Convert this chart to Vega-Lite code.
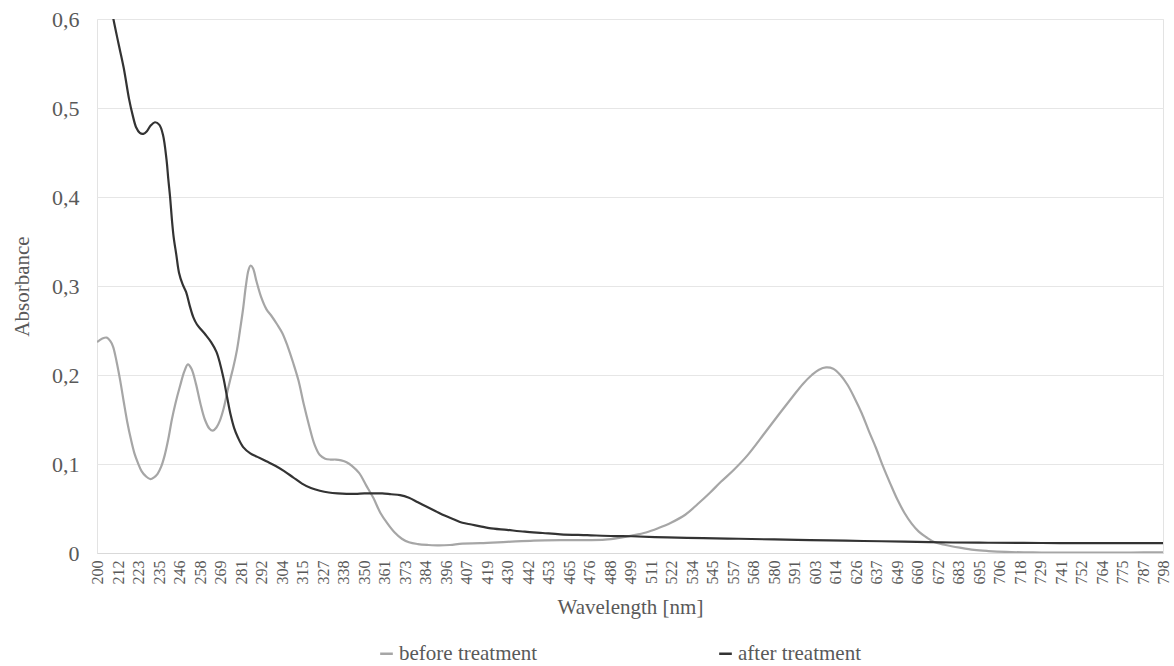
{
  "$schema": "https://vega.github.io/schema/vega-lite/v6.json",
  "autosize": {"type": "none"},
  "padding": {"left": 97, "top": 19, "right": 11, "bottom": 113},
  "width": 1066,
  "height": 534,
  "background": "white",
  "config": {
    "view": {"stroke": "#e3e3e3", "strokeWidth": 1},
    "font": "Liberation Serif",
    "axis": {"labelFont": "Liberation Serif", "titleFont": "Liberation Serif"},
    "legend": {"labelFont": "Liberation Serif", "titleFont": "Liberation Serif"}
  },
  "data": {
    "values": [
      {"w":200,"a":0.237,"s":"before treatment"},{"w":203,"a":0.241,"s":"before treatment"},{"w":205.5,"a":0.242,"s":"before treatment"},{"w":207.5,"a":0.238,"s":"before treatment"},{"w":209,"a":0.232,"s":"before treatment"},{"w":211,"a":0.215,"s":"before treatment"},{"w":213,"a":0.194,"s":"before treatment"},{"w":215,"a":0.170,"s":"before treatment"},{"w":217,"a":0.147,"s":"before treatment"},{"w":219,"a":0.128,"s":"before treatment"},{"w":221,"a":0.112,"s":"before treatment"},{"w":223,"a":0.101,"s":"before treatment"},{"w":225,"a":0.092,"s":"before treatment"},{"w":227.5,"a":0.086,"s":"before treatment"},{"w":230,"a":0.083,"s":"before treatment"},{"w":232,"a":0.085,"s":"before treatment"},{"w":234,"a":0.089,"s":"before treatment"},{"w":236,"a":0.097,"s":"before treatment"},{"w":238,"a":0.110,"s":"before treatment"},{"w":240,"a":0.128,"s":"before treatment"},{"w":242,"a":0.150,"s":"before treatment"},{"w":244,"a":0.168,"s":"before treatment"},{"w":246.5,"a":0.187,"s":"before treatment"},{"w":249,"a":0.204,"s":"before treatment"},{"w":251,"a":0.212,"s":"before treatment"},{"w":253,"a":0.207,"s":"before treatment"},{"w":255.5,"a":0.190,"s":"before treatment"},{"w":258,"a":0.168,"s":"before treatment"},{"w":260.5,"a":0.150,"s":"before treatment"},{"w":263,"a":0.140,"s":"before treatment"},{"w":265,"a":0.1375,"s":"before treatment"},{"w":267,"a":0.141,"s":"before treatment"},{"w":269,"a":0.149,"s":"before treatment"},{"w":271,"a":0.162,"s":"before treatment"},{"w":273,"a":0.180,"s":"before treatment"},{"w":275,"a":0.197,"s":"before treatment"},{"w":276.5,"a":0.209,"s":"before treatment"},{"w":278.5,"a":0.228,"s":"before treatment"},{"w":280.2,"a":0.250,"s":"before treatment"},{"w":282,"a":0.275,"s":"before treatment"},{"w":283.5,"a":0.300,"s":"before treatment"},{"w":285,"a":0.318,"s":"before treatment"},{"w":286.2,"a":0.323,"s":"before treatment"},{"w":287.5,"a":0.320,"s":"before treatment"},{"w":289.5,"a":0.305,"s":"before treatment"},{"w":292,"a":0.288,"s":"before treatment"},{"w":295,"a":0.274,"s":"before treatment"},{"w":298,"a":0.266,"s":"before treatment"},{"w":301,"a":0.257,"s":"before treatment"},{"w":304,"a":0.247,"s":"before treatment"},{"w":307,"a":0.232,"s":"before treatment"},{"w":310,"a":0.214,"s":"before treatment"},{"w":313,"a":0.194,"s":"before treatment"},{"w":316,"a":0.167,"s":"before treatment"},{"w":319,"a":0.143,"s":"before treatment"},{"w":322,"a":0.122,"s":"before treatment"},{"w":325,"a":0.110,"s":"before treatment"},{"w":328,"a":0.106,"s":"before treatment"},{"w":331,"a":0.105,"s":"before treatment"},{"w":334,"a":0.105,"s":"before treatment"},{"w":337,"a":0.104,"s":"before treatment"},{"w":340,"a":0.102,"s":"before treatment"},{"w":343,"a":0.098,"s":"before treatment"},{"w":347,"a":0.090,"s":"before treatment"},{"w":351,"a":0.076,"s":"before treatment"},{"w":355,"a":0.062,"s":"before treatment"},{"w":359,"a":0.045,"s":"before treatment"},{"w":363,"a":0.033,"s":"before treatment"},{"w":367,"a":0.023,"s":"before treatment"},{"w":371,"a":0.016,"s":"before treatment"},{"w":375,"a":0.012,"s":"before treatment"},{"w":380,"a":0.010,"s":"before treatment"},{"w":386,"a":0.009,"s":"before treatment"},{"w":392,"a":0.0085,"s":"before treatment"},{"w":398,"a":0.009,"s":"before treatment"},{"w":405,"a":0.0105,"s":"before treatment"},{"w":415,"a":0.011,"s":"before treatment"},{"w":430,"a":0.0125,"s":"before treatment"},{"w":445,"a":0.014,"s":"before treatment"},{"w":460,"a":0.0145,"s":"before treatment"},{"w":475,"a":0.0145,"s":"before treatment"},{"w":485,"a":0.015,"s":"before treatment"},{"w":493,"a":0.017,"s":"before treatment"},{"w":500,"a":0.0195,"s":"before treatment"},{"w":508,"a":0.023,"s":"before treatment"},{"w":515,"a":0.028,"s":"before treatment"},{"w":522,"a":0.034,"s":"before treatment"},{"w":530,"a":0.043,"s":"before treatment"},{"w":537,"a":0.055,"s":"before treatment"},{"w":544,"a":0.068,"s":"before treatment"},{"w":550,"a":0.080,"s":"before treatment"},{"w":557,"a":0.093,"s":"before treatment"},{"w":565,"a":0.110,"s":"before treatment"},{"w":575,"a":0.136,"s":"before treatment"},{"w":583,"a":0.157,"s":"before treatment"},{"w":590,"a":0.175,"s":"before treatment"},{"w":596,"a":0.190,"s":"before treatment"},{"w":601,"a":0.200,"s":"before treatment"},{"w":605,"a":0.206,"s":"before treatment"},{"w":609,"a":0.2085,"s":"before treatment"},{"w":613,"a":0.207,"s":"before treatment"},{"w":617,"a":0.200,"s":"before treatment"},{"w":621,"a":0.189,"s":"before treatment"},{"w":625,"a":0.174,"s":"before treatment"},{"w":629,"a":0.157,"s":"before treatment"},{"w":633,"a":0.137,"s":"before treatment"},{"w":637,"a":0.118,"s":"before treatment"},{"w":641,"a":0.097,"s":"before treatment"},{"w":645,"a":0.078,"s":"before treatment"},{"w":649,"a":0.060,"s":"before treatment"},{"w":653,"a":0.045,"s":"before treatment"},{"w":657,"a":0.033,"s":"before treatment"},{"w":661,"a":0.024,"s":"before treatment"},{"w":665,"a":0.018,"s":"before treatment"},{"w":670,"a":0.012,"s":"before treatment"},{"w":676,"a":0.009,"s":"before treatment"},{"w":684,"a":0.006,"s":"before treatment"},{"w":692,"a":0.0035,"s":"before treatment"},{"w":700,"a":0.0022,"s":"before treatment"},{"w":710,"a":0.0012,"s":"before treatment"},{"w":725,"a":0.0006,"s":"before treatment"},{"w":740,"a":0.0004,"s":"before treatment"},{"w":760,"a":0.0004,"s":"before treatment"},{"w":780,"a":0.0005,"s":"before treatment"},{"w":798,"a":0.0008,"s":"before treatment"},
      {"w":200,"a":0.69,"s":"after treatment"},{"w":203,"a":0.665,"s":"after treatment"},{"w":206,"a":0.635,"s":"after treatment"},{"w":209,"a":0.602,"s":"after treatment"},{"w":212,"a":0.573,"s":"after treatment"},{"w":215,"a":0.545,"s":"after treatment"},{"w":218,"a":0.510,"s":"after treatment"},{"w":220,"a":0.492,"s":"after treatment"},{"w":222,"a":0.478,"s":"after treatment"},{"w":224,"a":0.472,"s":"after treatment"},{"w":226,"a":0.471,"s":"after treatment"},{"w":228,"a":0.474,"s":"after treatment"},{"w":230,"a":0.480,"s":"after treatment"},{"w":232.5,"a":0.484,"s":"after treatment"},{"w":235,"a":0.481,"s":"after treatment"},{"w":237,"a":0.470,"s":"after treatment"},{"w":239,"a":0.442,"s":"after treatment"},{"w":240,"a":0.420,"s":"after treatment"},{"w":241,"a":0.400,"s":"after treatment"},{"w":242,"a":0.375,"s":"after treatment"},{"w":243,"a":0.355,"s":"after treatment"},{"w":244.5,"a":0.335,"s":"after treatment"},{"w":246,"a":0.315,"s":"after treatment"},{"w":248,"a":0.302,"s":"after treatment"},{"w":250,"a":0.293,"s":"after treatment"},{"w":252,"a":0.278,"s":"after treatment"},{"w":254,"a":0.265,"s":"after treatment"},{"w":256,"a":0.257,"s":"after treatment"},{"w":258,"a":0.252,"s":"after treatment"},{"w":261,"a":0.245,"s":"after treatment"},{"w":264,"a":0.237,"s":"after treatment"},{"w":267,"a":0.226,"s":"after treatment"},{"w":269,"a":0.213,"s":"after treatment"},{"w":271,"a":0.196,"s":"after treatment"},{"w":273,"a":0.175,"s":"after treatment"},{"w":275,"a":0.155,"s":"after treatment"},{"w":277,"a":0.140,"s":"after treatment"},{"w":279,"a":0.130,"s":"after treatment"},{"w":282,"a":0.119,"s":"after treatment"},{"w":286,"a":0.112,"s":"after treatment"},{"w":290,"a":0.108,"s":"after treatment"},{"w":295,"a":0.103,"s":"after treatment"},{"w":300,"a":0.098,"s":"after treatment"},{"w":305,"a":0.092,"s":"after treatment"},{"w":310,"a":0.085,"s":"after treatment"},{"w":315,"a":0.078,"s":"after treatment"},{"w":320,"a":0.073,"s":"after treatment"},{"w":325,"a":0.070,"s":"after treatment"},{"w":330,"a":0.068,"s":"after treatment"},{"w":335,"a":0.067,"s":"after treatment"},{"w":340,"a":0.0665,"s":"after treatment"},{"w":345,"a":0.0665,"s":"after treatment"},{"w":350,"a":0.067,"s":"after treatment"},{"w":355,"a":0.067,"s":"after treatment"},{"w":360,"a":0.067,"s":"after treatment"},{"w":365,"a":0.066,"s":"after treatment"},{"w":370,"a":0.065,"s":"after treatment"},{"w":375,"a":0.062,"s":"after treatment"},{"w":380,"a":0.057,"s":"after treatment"},{"w":385,"a":0.052,"s":"after treatment"},{"w":390,"a":0.047,"s":"after treatment"},{"w":395,"a":0.042,"s":"after treatment"},{"w":400,"a":0.038,"s":"after treatment"},{"w":405,"a":0.034,"s":"after treatment"},{"w":410,"a":0.032,"s":"after treatment"},{"w":415,"a":0.030,"s":"after treatment"},{"w":420,"a":0.028,"s":"after treatment"},{"w":430,"a":0.026,"s":"after treatment"},{"w":440,"a":0.024,"s":"after treatment"},{"w":450,"a":0.0225,"s":"after treatment"},{"w":460,"a":0.021,"s":"after treatment"},{"w":475,"a":0.020,"s":"after treatment"},{"w":490,"a":0.019,"s":"after treatment"},{"w":500,"a":0.0188,"s":"after treatment"},{"w":520,"a":0.0175,"s":"after treatment"},{"w":540,"a":0.0168,"s":"after treatment"},{"w":560,"a":0.016,"s":"after treatment"},{"w":580,"a":0.0152,"s":"after treatment"},{"w":600,"a":0.0145,"s":"after treatment"},{"w":620,"a":0.0138,"s":"after treatment"},{"w":640,"a":0.0132,"s":"after treatment"},{"w":660,"a":0.0125,"s":"after treatment"},{"w":680,"a":0.0118,"s":"after treatment"},{"w":700,"a":0.0115,"s":"after treatment"},{"w":720,"a":0.0113,"s":"after treatment"},{"w":740,"a":0.0112,"s":"after treatment"},{"w":760,"a":0.011,"s":"after treatment"},{"w":780,"a":0.011,"s":"after treatment"},{"w":798,"a":0.011,"s":"after treatment"}
    ]
  },
  "mark": {"type": "line", "interpolate": "catmull-rom", "strokeWidth": 2.2, "clip": true},
  "encoding": {
    "x": {
      "field": "w", "type": "quantitative",
      "scale": {"domain": [200, 798], "nice": false, "zero": false},
      "axis": {
        "title": "Wavelength [nm]",
        "values": [200,212,223,235,246,258,269,281,292,304,315,327,338,350,361,373,384,396,407,419,430,442,453,465,476,488,499,511,522,534,545,557,568,580,591,603,614,626,637,649,660,672,683,695,706,718,729,741,752,764,775,787,798],
        "labelAngle": -90, "labelAlign": "right", "labelBaseline": "middle",
        "labelFont": "Liberation Serif",
        "labelFontSize": 16, "labelColor": "#595959", "labelPadding": 7,
        "labelOverlap": false, "labelFlush": false, "labelBound": false,
        "ticks": false, "grid": false, "domainColor": "#d9d9d9",
        "titleFont": "Liberation Serif",
        "titleFontSize": 21, "titleColor": "#595959", "titleFontWeight": "normal", "titlePadding": 12
      }
    },
    "y": {
      "field": "a", "type": "quantitative",
      "scale": {"domain": [0, 0.6], "nice": false},
      "axis": {
        "title": "Absorbance",
        "values": [0, 0.1, 0.2, 0.3, 0.4, 0.5, 0.6],
        "format": ".1~f",
        "labelExpr": "replace(datum.label, '.', ',')",
        "labelFont": "Liberation Serif",
        "labelFontSize": 22, "labelColor": "#595959", "labelPadding": 18,
        "ticks": false, "domain": false, "grid": true, "gridColor": "#e6e6e6", "gridWidth": 1,
        "titleFont": "Liberation Serif",
        "titleFontSize": 21, "titleColor": "#595959", "titleFontWeight": "normal", "titlePadding": 19
      }
    },
    "color": {
      "field": "s", "type": "nominal",
      "scale": {"domain": ["before treatment", "after treatment"], "range": ["#a6a6a6", "#333333"]},
      "legend": {
        "title": null, "orient": "none", "legendX": 279, "legendY": 624,
        "direction": "horizontal", "columnPadding": 176,
        "symbolType": "stroke", "symbolSize": 160, "symbolStrokeWidth": 2.5,
        "labelFont": "Liberation Serif",
        "labelFontSize": 21, "labelColor": "#595959", "labelOffset": 2,
        "labelLimit": 300
      }
    }
  }
}
